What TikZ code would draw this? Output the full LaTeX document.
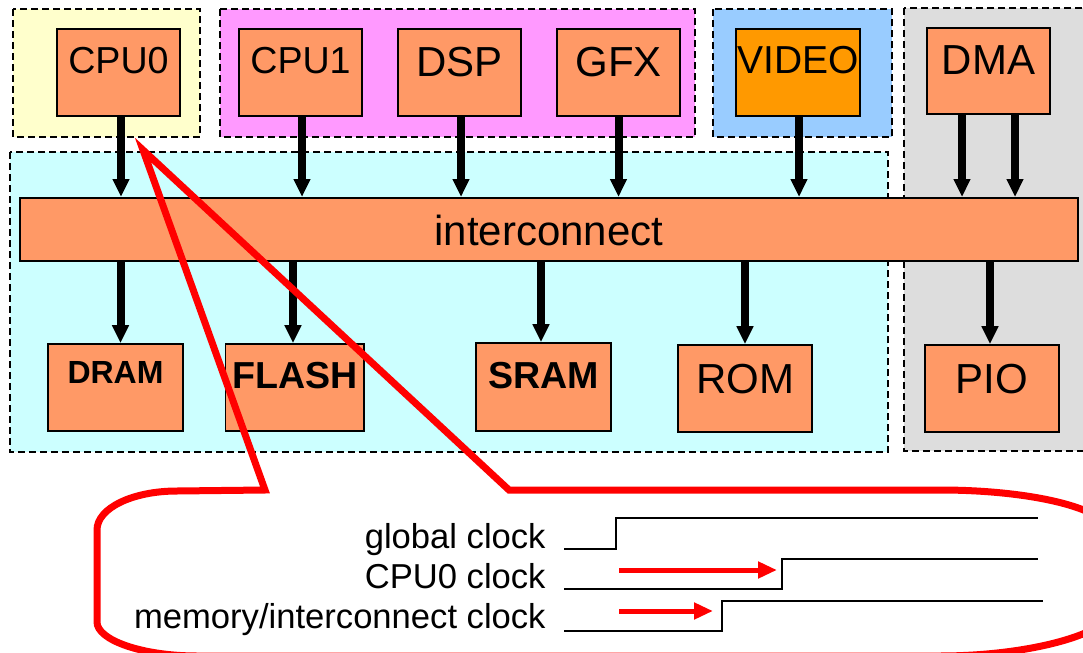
\documentclass[tikz,border=0pt]{standalone}
\usepackage{fontspec}
\setmainfont{Liberation Sans}
\usetikzlibrary{arrows.meta,calc}
\definecolor{salmon}{HTML}{FF9966}
\definecolor{cyanbg}{HTML}{CCFFFF}
\definecolor{yellowbg}{HTML}{FFFFCC}
\definecolor{pinkbg}{HTML}{FF99FF}
\definecolor{bluebg}{HTML}{99CCFF}
\definecolor{graybg}{HTML}{DDDDDD}
\definecolor{videoc}{HTML}{FF9900}
\newcommand{\fs}[1]{\fontsize{#1}{#1}\selectfont}
\begin{document}
\begin{tikzpicture}[x=0.5pt,y=-0.5pt,
  grp/.style={draw=black, line width=1pt, dash pattern=on 3.5pt off 2pt},
  box/.style={draw=black, line width=0.85pt, fill=salmon, inner sep=0pt,
    minimum width=61.5pt, minimum height=43.5pt},
  bl/.style={text height=#1, text depth=0pt},
  bld/.style={text height=0pt, text depth=#1},
  barrow/.style={line width=4pt, -{Triangle[width=8pt,length=9pt]}},
  rarrow/.style={draw=red, line width=2.5pt, -{Triangle[width=8pt,length=9.5pt]}},
  clk/.style={line width=1pt},
  lab/.style={font=\fs{17.3pt}, anchor=base east, inner sep=0pt},
  callout/.style={draw=red, line width=3.5pt, line join=miter}
]
\useasboundingbox (0,0) rectangle (1083,653);
\clip (0,0) rectangle (1083,653);

% groups
\draw[grp, fill=yellowbg] (13,9) rectangle (200,137);
\draw[grp, fill=pinkbg] (220,9) rectangle (695,137);
\draw[grp, fill=bluebg] (713,9) rectangle (892,137);
\draw[grp, fill=graybg] (904,8) rectangle (1100,451);
\draw[grp, fill=cyanbg] (10,152) rectangle (888,452);

% top boxes
\node[box, bl=0.5pt, font=\fs{18.8pt}] (cpu0) at (118.5,72.5) {CPU0};
\node[box, bl=0.5pt, font=\fs{18.8pt}] (cpu1) at (300.5,72.5) {CPU1};
\node[box, bl=3.5pt, font=\fs{21pt}] (dsp) at (459.5,72.5) {DSP};
\node[box, bl=3.5pt, font=\fs{21pt}] (gfx) at (618.5,72.5) {GFX};
\node[box, bl=0.5pt, font=\fs{19.5pt}, fill=videoc, minimum width=62pt] (video) at (798,72.5) {VIDEO};
\node[box, bl=4pt, font=\fs{21pt}, minimum height=43pt] (dma) at (988.5,71) {DMA};

% interconnect
\node[box, bl=15.5pt, font=\fs{21pt}, line width=1pt, minimum width=529pt, minimum height=31.5pt] (ic) at (549,229.5) {interconnect};

% bottom boxes
\node[box, bld=4.5pt, font=\bfseries\fs{16pt}, minimum width=67.5pt] (dram) at (115.5,387.5) {DRAM};
\node[box, bl=0.5pt, font=\bfseries\fs{18.8pt}, minimum width=69.25pt] (flash) at (294.75,387.5) {FLASH};
\node[box, bl=1pt, font=\bfseries\fs{18.8pt}, minimum width=67.5pt, minimum height=44pt] (sram) at (543.5,387) {SRAM};
\node[box, bl=4.5pt, font=\fs{21pt}, minimum width=67pt] (rom) at (745,388.5) {ROM};
\node[box, bl=4.5pt, font=\fs{21pt}, minimum width=67pt] (pio) at (992,388.5) {PIO};

% arrows into interconnect
\coordinate (a0) at ([xshift=1.25pt]cpu0.south);
\coordinate (a1) at ([xshift=0.75pt]cpu1.south);
\coordinate (a2) at ([xshift=0.75pt]dsp.south);
\coordinate (a3) at (gfx.south);
\coordinate (a4) at ([xshift=0.5pt]video.south);
\coordinate (a5) at ([xshift=-13.25pt]dma.south);
\coordinate (a6) at ([xshift=13.25pt]dma.south);
\foreach \c in {a0,a1,a2,a3,a4,a5,a6}
  \draw[barrow] (\c) -- (\c |- ic.north);

% arrows out of interconnect
\coordinate (b0) at ([xshift=2.5pt]dram.north);
\coordinate (b1) at ([xshift=-0.9pt]flash.north);
\coordinate (b2) at ([xshift=-1.25pt]sram.north);
\coordinate (b3) at (rom.north);
\coordinate (b4) at ([xshift=-1pt]pio.north);
\foreach \c in {b0,b1,b2,b3,b4}
  \draw[barrow] (\c |- ic.south) -- (\c);

% callout
\draw[callout] (509,490) -- (143,150) -- (265,490) -- (177,491)
  .. controls (132.8,491) and (97,508) .. (97,530)
  -- (97,622)
  .. controls (97,640) and (141.8,656) .. (197,656)
  -- (940,656)
  .. controls (1033.8,656) and (1110,632) .. (1110,612)
  -- (1110,533)
  .. controls (1110,509.3) and (1033.8,490) .. (940,490)
  -- cycle;

% clock labels
\node[lab] (gl) at (546,548) {global clock};
\node[lab] (cl) at (546,588) {CPU0 clock};
\node[lab] (ml) at (546,628) {memory/interconnect clock};

% waveforms
\draw[clk] (564,549) -- (616,549) -- (616,518) -- (1038,518);
\draw[clk] (564,589) -- (782,589) -- (782,559) -- (1038,559);
\draw[clk] (564,631) -- (722,631) -- (722,601) -- (1043,601);

% skew arrows
\coordinate (r0s) at (619,570);
\coordinate (r0e) at (777,570);
\coordinate (r1s) at (619,611);
\coordinate (r1e) at (713,611);
\draw[rarrow] (r0s) -- (r0e);
\draw[rarrow] (r1s) -- (r1e);
\end{tikzpicture}
\end{document}
